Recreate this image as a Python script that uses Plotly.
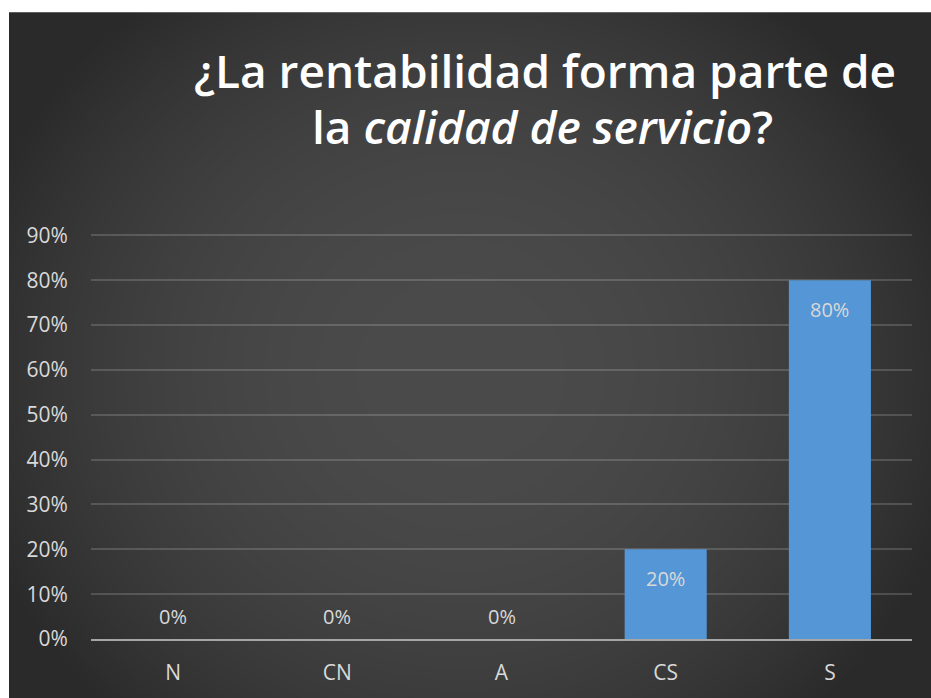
import base64
import struct
import zlib

import numpy as np
import plotly.graph_objects as go

# data
categories = ["N", "CN", "A", "CS", "S"]
values = [0.0, 0.0, 0.0, 0.20, 0.80]
value_labels = ["0%", "0%", "0%", "20%", "80%"]
y_ticks = [0, 0.1, 0.2, 0.3, 0.4, 0.5, 0.6, 0.7, 0.8, 0.9]
y_tick_labels = ["0%", "10%", "20%", "30%", "40%", "50%", "60%", "70%", "80%", "90%"]

W, H = 931, 698
L, R, T, B = 91, 19, 234, 55  # plot area margins in px
plot_w = W - L - R
plot_h = H - T - B
base_y = H - B  # px of the 0% line


def px_x(p):
    return (p - L) / plot_w


def px_y(p):
    return (base_y - p) / plot_h


def gradient_png(w, h):
    # dark radial background like the Excel chart style
    yy, xx = np.mgrid[0:h, 0:w].astype(float)
    r = np.sqrt(((xx - 452) / 560.0) ** 2 + ((yy - 362) / 520.0) ** 2)
    img = np.clip(75 - 40 * r ** 2.2, 42, 80).astype(np.uint8)
    raw = b"".join(b"\x00" + row.tobytes() for row in img)

    def chunk(tag, data):
        return struct.pack(">I", len(data)) + tag + data + struct.pack(">I", zlib.crc32(tag + data) & 0xffffffff)

    png = (b"\x89PNG\r\n\x1a\n"
           + chunk(b"IHDR", struct.pack(">IIBBBBB", w, h, 8, 0, 0, 0, 0))
           + chunk(b"IDAT", zlib.compress(raw, 9))
           + chunk(b"IEND", b""))
    return "data:image/png;base64," + base64.b64encode(png).decode()


bg_x0, bg_y0 = 9, 10  # white border on top / left of the picture
bg_w, bg_h = W - bg_x0 + 12, H - bg_y0 + 12

fig = go.Figure()
fig.add_trace(go.Bar(
    x=categories,
    y=values,
    marker=dict(color="#5596d6", line=dict(width=0)),
    hoverinfo="x+y",
))

# data labels: inside end for bars, above the axis for zero bars
for cat, val, lab in zip(categories, values, value_labels):
    fig.add_annotation(
        x=cat, y=val, text=lab, showarrow=False,
        yanchor="middle", yshift=-29 if val > 0 else 23,
        font=dict(family="Open Sans", size=20, color="#d9d9d9"),
    )

# title, two lines, second one partly italic
title_font = dict(family="Open Sans", size=46, weight=600, color="#ffffff")
fig.add_annotation(
    xref="paper", yref="paper", x=px_x(545), y=px_y(68),
    text="¿La rentabilidad forma parte de",
    showarrow=False, xanchor="center", yanchor="middle",
    font=title_font,
)
fig.add_annotation(
    xref="paper", yref="paper", x=px_x(542), y=px_y(125),
    text="la <i>calidad de servicio</i>?",
    showarrow=False, xanchor="center", yanchor="middle",
    font=title_font,
)

fig.add_layout_image(
    source=gradient_png(bg_w, bg_h),
    xref="paper", yref="paper",
    x=px_x(bg_x0), y=px_y(bg_y0),
    sizex=bg_w / plot_w, sizey=bg_h / plot_h,
    xanchor="left", yanchor="top",
    sizing="stretch", layer="below",
)

# white strips on the top and left border
fig.add_shape(type="rect", xref="paper", yref="paper", layer="below",
              x0=px_x(-5), x1=px_x(bg_x0), y0=px_y(H + 5), y1=px_y(-5),
              fillcolor="#ffffff", line=dict(width=0))
fig.add_shape(type="rect", xref="paper", yref="paper", layer="below",
              x0=px_x(-5), x1=px_x(W + 5), y0=px_y(bg_y0), y1=px_y(-5),
              fillcolor="#ffffff", line=dict(width=0))

fig.update_layout(
    width=W, height=H,
    margin=dict(l=L, r=R, t=T, b=B, pad=0),
    paper_bgcolor="#2c2c2c",
    plot_bgcolor="rgba(0,0,0,0)",
    bargap=0.5,
    showlegend=False,
    font=dict(family="Open Sans", size=21, color="#d9d9d9"),
    xaxis=dict(
        showline=True, linecolor="#a6a6a6", linewidth=2,
        showgrid=False, zeroline=False,
        ticks="outside", ticklen=14, tickcolor="rgba(0,0,0,0)",
        tickfont=dict(family="Open Sans", size=21, color="#d9d9d9"),
    ),
    yaxis=dict(
        range=[0, 0.903],
        tickvals=y_ticks, ticktext=y_tick_labels,
        showgrid=True, gridcolor="rgba(255,255,255,0.16)", gridwidth=1.5,
        zeroline=False, showline=False,
        ticks="outside", ticklen=18, tickcolor="rgba(0,0,0,0)",
        tickfont=dict(family="Open Sans", size=21, color="#d9d9d9"),
    ),
)

# drop the default page margin so the figure sits at the window corner,
# and keep the page colour dark past the figure's right edge
page_js = (
    "document.body.style.margin='0';"
    "document.body.style.overflow='hidden';"
    "document.documentElement.style.overflow='hidden';"
    "document.documentElement.style.background='#2e2e2e';"
    "document.body.style.background='#2e2e2e';"
)
fig.write_html("out.html", config={"displayModeBar": False}, post_script=page_js)
